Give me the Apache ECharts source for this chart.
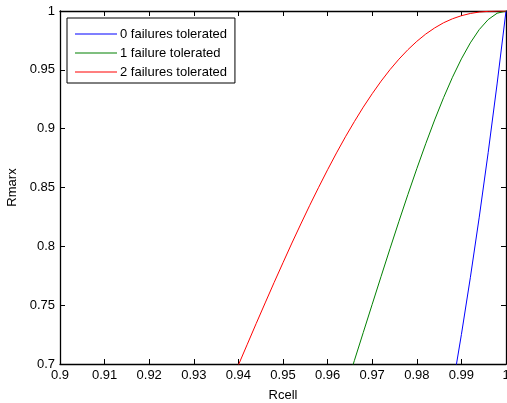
<!DOCTYPE html>
<html>
<head>
<meta charset="utf-8">
<script src="https://cdn.jsdelivr.net/npm/echarts@6/dist/echarts.min.js"></script>
<style>
  html, body { margin: 0; padding: 0; background: #fff; }
  #chart { width: 507px; height: 403px; }
</style>
</head>
<body>
<div id="chart"></div>
<script>
// Rcell samples (x axis)
const rcell = [0.936, 0.938, 0.940, 0.942, 0.944, 0.946, 0.948, 0.950, 0.952, 0.954,
  0.956, 0.958, 0.960, 0.962, 0.964, 0.966, 0.968, 0.970, 0.972, 0.974,
  0.976, 0.978, 0.980, 0.982, 0.984, 0.986, 0.988, 0.990, 0.992, 0.994,
  0.996, 0.998, 1.000];

// Rmarx (null = below the plotted range)
const zeroTolerated = [null, null, null, null, null, null, null, null, null, null,
  null, null, null, null, null, null, null, null, null, null,
  null, null, null, null, null, null, 0.6796, 0.7250, 0.7733, 0.8248,
  0.8796, 0.9380, 1];
const oneTolerated = [null, null, null, null, null, null, null, null, null, null,
  null, null, null, null, 0.6791, 0.7029, 0.7268, 0.7507, 0.7745, 0.7981,
  0.8213, 0.8440, 0.8660, 0.8872, 0.9074, 0.9263, 0.9437, 0.9593, 0.9729, 0.9842,
  0.9927, 0.9981, 1];
const twoTolerated = [0.6633, 0.6812, 0.6991, 0.7168, 0.7345, 0.7519, 0.7692, 0.7861, 0.8028, 0.8190,
  0.8349, 0.8502, 0.8651, 0.8794, 0.8931, 0.9060, 0.9183, 0.9297, 0.9404, 0.9502,
  0.9591, 0.9671, 0.9742, 0.9804, 0.9856, 0.9900, 0.9934, 0.9960, 0.9979, 0.9991,
  0.9997, 1.0000, 1];

const seriesNames = ['0 failures tolerated', '1 failure tolerated', '2 failures tolerated'];
const seriesColors = ['#0000ff', '#008000', '#ff0000'];

const pairs = (ys) => rcell.map((x, i) => [x, ys[i]]).filter(p => p[1] !== null);

const font = 'Liberation Sans, Arial, Helvetica, sans-serif';

const chart = echarts.init(document.getElementById('chart'), null, { renderer: 'canvas' });

const axisBase = {
  type: 'value',
  axisLine: { show: true, onZero: false, lineStyle: { color: '#000', width: 1.3 } },
  axisTick: { show: true, inside: true, length: 5, lineStyle: { color: '#000', width: 1 } },
  splitLine: { show: false },
};

chart.setOption({
  animation: false,
  backgroundColor: '#fff',
  textStyle: { fontFamily: font },
  grid: { left: 60, right: 1, top: 11, bottom: 39, containLabel: false, outerBoundsMode: 'none' },
  legend: {
    orient: 'vertical',
    left: 67,
    top: 18,
    data: seriesNames.map((n, i) => ({ name: n, icon: 'rect', itemStyle: { color: seriesColors[i] } })),
    itemWidth: 42,
    itemHeight: 1,
    itemGap: 4,
    padding: [8.5, 8, 3.5, 8],
    borderColor: '#000',
    borderWidth: 1,
    backgroundColor: '#fff',
    textStyle: { fontSize: 13, lineHeight: 15, color: '#000', fontFamily: font, padding: [0, 0, 0, -2] },
  },
  xAxis: [
    Object.assign({}, axisBase, {
      min: 0.9, max: 1, interval: 0.01,
      position: 'bottom',
      name: 'Rcell',
      nameLocation: 'middle',
      nameGap: 25,
      nameTextStyle: { fontSize: 13, color: '#000', fontFamily: font },
      axisLabel: { fontSize: 13, color: '#000', margin: 5, fontFamily: font },
    }),
    Object.assign({}, axisBase, {
      min: 0.9, max: 1, interval: 0.01,
      position: 'top',
      axisLabel: { show: false },
    }),
  ],
  yAxis: [
    Object.assign({}, axisBase, {
      min: 0.7, max: 1, interval: 0.05,
      position: 'left',
      name: 'Rmarx',
      nameLocation: 'middle',
      nameGap: 39,
      nameRotate: 90,
      nameTextStyle: { fontSize: 13, color: '#000', fontFamily: font },
      axisLabel: { fontSize: 13, color: '#000', margin: 5, fontFamily: font },
    }),
    Object.assign({}, axisBase, {
      min: 0.7, max: 1, interval: 0.05,
      position: 'right',
      axisLabel: { show: false },
    }),
  ],
  series: [zeroTolerated, oneTolerated, twoTolerated].map((ys, i) => ({
    name: seriesNames[i],
    type: 'line',
    xAxisIndex: 0,
    yAxisIndex: 0,
    data: pairs(ys),
    symbol: 'none',
    showSymbol: false,
    clip: true,
    color: seriesColors[i],
    lineStyle: { color: seriesColors[i], width: 1 },
    z: 2,
  })),
});
</script>
</body>
</html>
